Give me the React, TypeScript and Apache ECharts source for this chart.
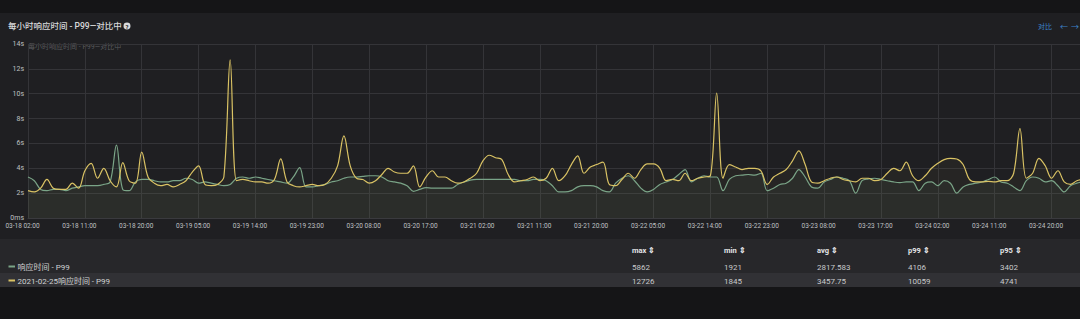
import React, { useEffect, useRef } from 'react';
import * as echarts from 'echarts';

// hourly P99 response time (ms), starting 03-18 02:00
const currentP99 = [
  3300, 3000, 2300, 2200, 2300, 2300, 2200, 2400, 2500, 2600,
  2600, 2600, 2700, 2900, 5860, 2300, 2200, 2900, 3100, 3100,
  3000, 2900, 2900, 3000, 3000, 3200, 3100, 2800, 2900, 2800,
  2700, 2600, 2700, 3200, 3300, 3200, 3300, 3200, 3100, 3000,
  2900, 2800, 3300, 4050, 2500, 2500, 2600, 2700, 2900, 3000,
  3200, 3300, 3300, 3350, 3400, 3400, 3300, 3000, 2900, 2800,
  2600, 2150, 2300, 2450, 2400, 2400, 2400, 2400, 2700, 2900,
  3050, 3100, 3100, 3100, 3100, 3100, 3100, 3100, 3000, 3000,
  3100, 3100, 3000, 2600, 2100, 2100, 2200, 2500, 2600, 2600,
  2500, 2200, 2100, 2800, 3200, 3400, 3000, 2400, 2100, 2300,
  2700, 2900, 3100, 3500, 3900, 2900, 3200, 3400, 3300, 3300,
  2200, 3100, 3400, 3450, 3500, 3450, 3600, 2200, 2400, 2700,
  2800, 3200, 3900, 3300, 2500, 2400, 2900, 3100, 3300, 3200,
  3000, 2000, 3000, 3150, 3200, 3100, 3000, 2900, 2850, 2900,
  2900, 2200, 2800, 2900, 2600, 3000, 2800, 2000, 2500, 2700,
  2800, 2900, 3100, 3300, 2900, 2800, 2500, 2200, 3000, 3300,
  3200, 2900, 3000, 2600, 2100, 2600, 2800, 2900,
];

const comparedP99 = [
  2200, 2100, 2400, 3100, 2400, 2300, 2300, 2800, 2400, 3800,
  4400, 3200, 4000, 3000, 2500, 4450, 3000, 2800, 5300, 3300,
  2800, 2600, 2700, 2500, 2700, 3000, 3700, 4200, 2700, 2600,
  2700, 3300, 12726, 3000, 3100, 3000, 2900, 2900, 2800, 3100,
  4750, 2900, 2600, 2500, 2600, 2700, 2600, 2700, 3200, 4200,
  6600, 4200, 3200, 3100, 2800, 3000, 3500, 4000, 3700, 3600,
  3600, 4200, 2500, 3300, 3800, 3300, 3300, 3000, 2800, 2900,
  3200, 3600, 4600, 5050, 4850, 4700, 3500, 2900, 3000, 3100,
  3300, 3000, 3200, 4000, 3000, 3400, 4300, 5000, 3600, 4100,
  4300, 4500, 2700, 2600, 3100, 3600, 3200, 3900, 4350, 4350,
  4000, 3000, 3100, 3000, 3600, 3000, 3200, 3300, 3400, 10059,
  3200, 4300, 4100, 3900, 4000, 4000, 3800, 2700, 3300, 3600,
  3900, 4600, 5400, 4300, 2900, 2800, 3000, 3200, 3300, 3100,
  3000, 2900, 3200, 3200, 3000, 3100, 3600, 4000, 3800, 4500,
  3400, 3000, 3400, 4000, 4400, 4700, 4800, 4750, 4300, 3100,
  2900, 2900, 2950, 2900, 3000, 3000, 3600, 7200, 3200, 3600,
  4800, 4200, 3200, 3800, 2900, 2700, 3000, 3100,
];

const xTickLabels = [
  '03-18 02:00', '03-18 11:00', '03-18 20:00', '03-19 05:00', '03-19 14:00',
  '03-19 23:00', '03-20 08:00', '03-20 17:00', '03-21 02:00', '03-21 11:00',
  '03-21 20:00', '03-22 05:00', '03-22 14:00', '03-22 23:00', '03-23 08:00',
  '03-23 17:00', '03-24 02:00', '03-24 11:00', '03-24 20:00',
];

const seriesNames = ['响应时间 - P99', '2021-02-25响应时间 - P99'];
const statHeaders = ['max', 'min', 'avg', 'p99', 'p95'];
const currentStats = ['5862', '1921', '2817.583', '4106', '3402'];
const comparedStats = ['12726', '1845', '3457.75', '10059', '4741'];

const panelTitle = '每小时响应时间 - P99—对比中';

const GREEN = '#7aa487';
const YELLOW = '#d9c264';
const FONT = 'Roboto, "Noto Sans CJK SC", sans-serif';
const STAT_X = [632, 724, 817, 908, 1000];

export default function App() {
  const ref = useRef<HTMLDivElement>(null);

  useEffect(() => {
    document.body.style.margin = '0';
    const chart = echarts.init(ref.current!, null, { renderer: 'svg' });

    const graphic: any[] = [
      { type: 'rect', shape: { x: 0, y: 0, width: 1080, height: 13 }, style: { fill: '#151517' }, silent: true },
      { type: 'rect', shape: { x: 0, y: 239, width: 1080, height: 34 }, style: { fill: '#27272a' }, silent: true },
      { type: 'rect', shape: { x: 0, y: 273, width: 1080, height: 14 }, style: { fill: '#313135' }, silent: true },
      { type: 'rect', shape: { x: 0, y: 287, width: 1080, height: 32 }, style: { fill: '#151517' }, silent: true },
      {
        type: 'text', x: 8, y: 26,
        style: { text: panelTitle, fill: '#d8d9da', font: `500 8.5px ${FONT}`, verticalAlign: 'middle' },
      },
      {
        type: 'text', x: 127, y: 26,
        style: {
          text: '?', fill: '#202023', font: `bold 6px ${FONT}`, align: 'center', verticalAlign: 'middle',
          backgroundColor: '#d8d9da', borderRadius: 4, padding: [1, 2, 0, 2],
        },
      },
      {
        type: 'text', x: 1038, y: 27,
        style: { text: '对比', fill: '#3d83c9', font: `7px ${FONT}`, verticalAlign: 'middle' },
      },
      {
        type: 'text', x: 1060, y: 27,
        style: { text: '←', fill: '#3d83c9', font: `8px ${FONT}`, verticalAlign: 'middle' },
      },
      {
        type: 'text', x: 1071, y: 27,
        style: { text: '→', fill: '#3d83c9', font: `8px ${FONT}`, verticalAlign: 'middle' },
      },
      {
        type: 'text', x: 28, y: 47,
        style: { text: panelTitle, fill: 'rgba(160,160,165,0.45)', font: `7px ${FONT}`, verticalAlign: 'middle' },
      },
      // legend table
      { type: 'rect', shape: { x: 8.5, y: 265.5, width: 6.5, height: 2 }, style: { fill: GREEN } },
      { type: 'rect', shape: { x: 8.5, y: 279.5, width: 6.5, height: 2 }, style: { fill: YELLOW } },
      {
        type: 'text', x: 17.5, y: 267,
        style: { text: seriesNames[0], fill: '#d0d1d3', font: `8px ${FONT}`, verticalAlign: 'middle' },
      },
      {
        type: 'text', x: 17.5, y: 281,
        style: { text: seriesNames[1], fill: '#d0d1d3', font: `8px ${FONT}`, verticalAlign: 'middle' },
      },
    ];
    statHeaders.forEach((h, i) => {
      graphic.push({
        type: 'text', x: STAT_X[i], y: 250.5,
        style: { text: h + ' ⇕', fill: '#e3e4e6', font: `bold 7.5px ${FONT}`, verticalAlign: 'middle' },
      });
      graphic.push({
        type: 'text', x: STAT_X[i], y: 267,
        style: { text: currentStats[i], fill: '#c8c9cb', font: `8px ${FONT}`, verticalAlign: 'middle' },
      });
      graphic.push({
        type: 'text', x: STAT_X[i], y: 281,
        style: { text: comparedStats[i], fill: '#c8c9cb', font: `8px ${FONT}`, verticalAlign: 'middle' },
      });
    });

    chart.setOption({
      animation: false,
      backgroundColor: '#1f1f22',
      textStyle: { fontFamily: FONT },
      grid: { left: 28, top: 44, right: 0, bottom: 101, containLabel: false },
      xAxis: {
        type: 'value',
        min: 0,
        max: 166.5,
        interval: 9,
        axisLine: { show: true, lineStyle: { color: '#3a3a3e', width: 1 } },
        axisTick: { show: false },
        splitLine: { show: true, lineStyle: { color: '#343438', width: 1 } },
        axisLabel: {
          color: '#bfc0c2',
          fontSize: 6.5,
          margin: 5,
          showMaxLabel: false,
          padding: [0, 11, 0, 0],
          formatter: (v: number) => (v % 9 === 0 ? xTickLabels[v / 9] ?? '' : ''),
        },
      },
      yAxis: {
        type: 'value',
        min: 0,
        max: 14000,
        interval: 2000,
        axisLine: { show: false },
        axisTick: { show: false },
        splitLine: { show: true, lineStyle: { color: '#343438', width: 1 } },
        axisLabel: {
          color: '#bfc0c2',
          fontSize: 7,
          margin: 4,
          formatter: (v: number) => (v === 0 ? '0ms' : v / 1000 + 's'),
        },
      },
      series: [
        {
          name: seriesNames[0],
          type: 'line',
          data: currentP99.map((v, i) => [i, v]),
          smooth: 0.35,
          symbol: 'none',
          lineStyle: { width: 1.2, color: GREEN },
          itemStyle: { color: GREEN },
          areaStyle: { color: GREEN, opacity: 0.06 },
        },
        {
          name: seriesNames[1],
          type: 'line',
          data: comparedP99.map((v, i) => [i, v]),
          smooth: 0.35,
          symbol: 'none',
          lineStyle: { width: 1.2, color: YELLOW },
          itemStyle: { color: YELLOW },
          areaStyle: { color: YELLOW, opacity: 0.04 },
        },
      ],
      graphic,
    });

    return () => chart.dispose();
  }, []);

  return (
    <div
      ref={ref}
      style={{ position: 'fixed', left: 0, top: 0, width: 1080, height: 319 }}
    />
  );
}
